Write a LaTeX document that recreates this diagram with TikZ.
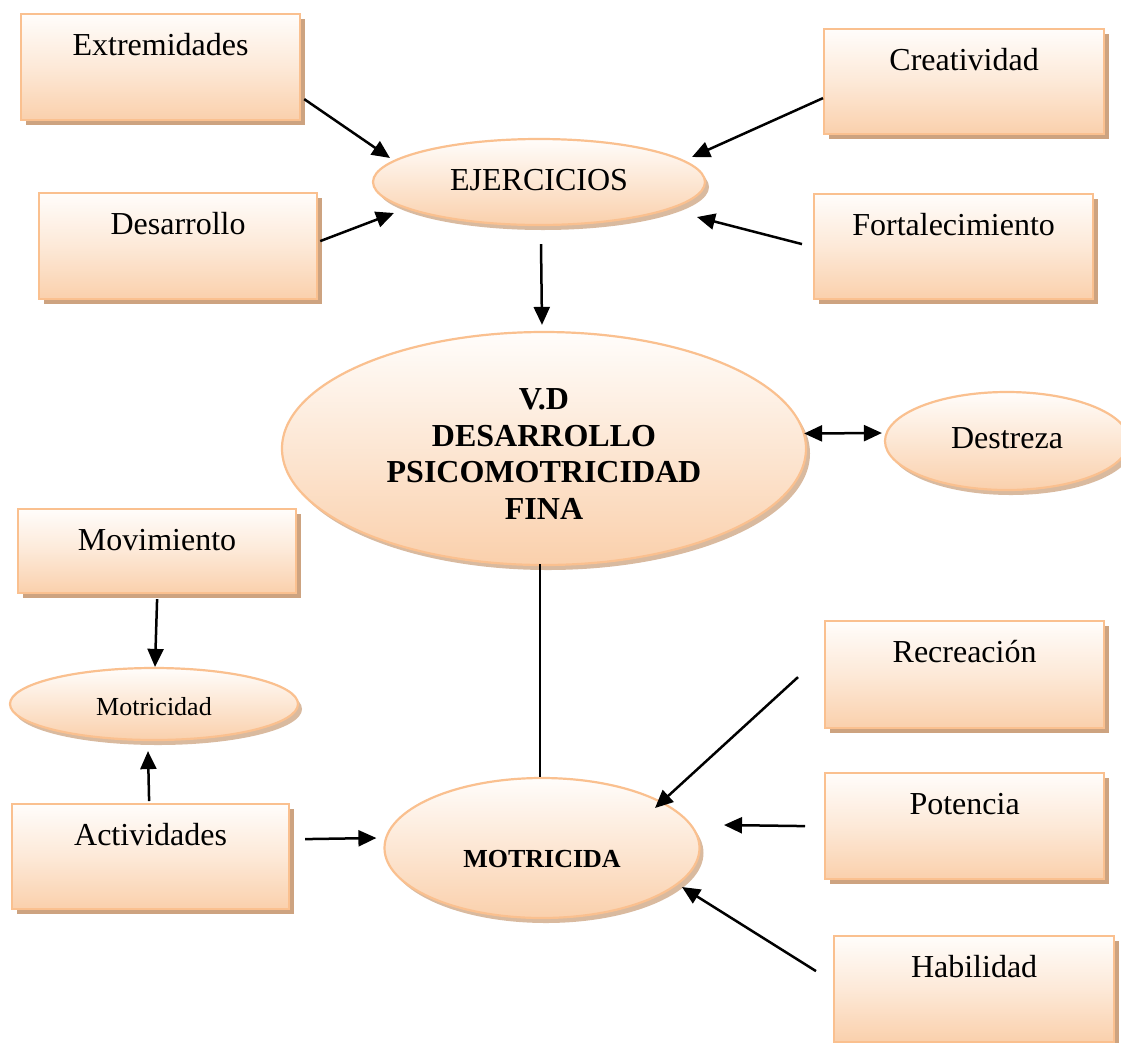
\documentclass[tikz,border=0pt]{standalone}
\usepackage{fontspec}
\setmainfont{Liberation Serif}
\usetikzlibrary{shapes.geometric,shadows,arrows.meta}
\definecolor{bordc}{RGB}{250,192,143}
\definecolor{peach}{RGB}{250,208,172}
\definecolor{topc}{RGB}{255,253,251}
\definecolor{shadc}{RGB}{205,163,128}
\begin{document}
\begin{tikzpicture}[x=1pt,y=-1pt,
  box/.style={rectangle, draw=bordc, line width=2.2pt,
    top color=topc, bottom color=peach, middle color=peach!45!topc,
    drop shadow={shadow xshift=5pt,shadow yshift=-5pt,opacity=1,fill=shadc},
    inner sep=0pt, align=center, anchor=north west,
    font=\fontsize{32}{36}\selectfont, text height=41pt},
  oval/.style={ellipse, draw=bordc, line width=2.2pt,
    top color=topc, bottom color=peach,
    drop shadow={shadow xshift=4pt,shadow yshift=-5pt,opacity=0.75,fill=shadc},
    inner sep=0pt, align=center},
  arr/.style={line width=2.5pt, -{Triangle[length=18pt,width=16pt]}},
  dbl/.style={line width=2.5pt, {Triangle[length=18pt,width=16pt]}-{Triangle[length=18pt,width=16pt]}},
  plain/.style={line width=2.5pt}
]
\fill[white] (0,0) rectangle (1121,1042);
\useasboundingbox (0,0) rectangle (1121,1042);

% boxes
\node[box, text width=279pt, text depth=65pt] (ext)  at (20,13)   {Extremidades};
\node[box, text width=280pt, text depth=64pt] (cre)  at (823,28)  {Creatividad};
\node[box, text width=278pt, text depth=65pt] (des)  at (38,192)  {Desarrollo};
\node[box, text width=279pt, text depth=64pt] (fort) at (813,193) {Fortalecimiento};
\node[box, text width=278pt, text depth=43pt] (mov)  at (17,508)  {Movimiento};
\node[box, text width=279pt, text depth=66pt] (rec)  at (824,620) {Recreación};
\node[box, text width=279pt, text depth=65pt] (pot)  at (824,772) {Potencia};
\node[box, text width=277pt, text depth=64pt] (act)  at (11,803)  {Actividades};
\node[box, text width=280pt, text depth=65pt] (hab)  at (833,935) {Habilidad};

% ellipses
\node[oval, minimum width=332pt, minimum height=86pt,
  font=\fontsize{32}{36}\selectfont, text height=16pt, text depth=0pt] (ejer) at (539,182) {EJERCICIOS};
\node[oval, minimum width=524pt, minimum height=233pt,
  font=\bfseries\fontsize{32}{36.5}\selectfont, text height=141pt, text depth=0pt] (big) at (544,448.5)
  {V.D\\DESARROLLO\\PSICOMOTRICIDAD\\FINA};
\node[oval, minimum width=244pt, minimum height=98pt,
  font=\fontsize{32}{36}\selectfont, text height=14pt, text depth=0pt] (dest) at (1007,441) {Destreza};
\node[oval, minimum width=288pt, minimum height=72pt,
  font=\fontsize{26}{30}\selectfont, text height=22pt, text depth=0pt] (motr) at (154,704) {Motricidad};
\node[oval, minimum width=315pt, minimum height=140pt,
  font=\bfseries\fontsize{26}{30}\selectfont, text height=38pt, text depth=0pt] (mot) at (542,848) {MOTRICIDA};

% connectors
\draw[arr] ([xshift=3pt,yshift=-32pt]ext.east) -- ([xshift=-149pt,yshift=24pt]ejer.center);
\draw[arr] ([yshift=-16.5pt]cre.west) -- ([xshift=153pt,yshift=25pt]ejer.center);
\draw[arr] ([xshift=2pt,yshift=5pt]des.east) -- ([xshift=-145pt,yshift=-31pt]ejer.center);
\draw[arr] ([xshift=-11pt,yshift=2.5pt]fort.west) -- ([xshift=158pt,yshift=-35pt]ejer.center);
\draw[arr] ([xshift=2pt,yshift=-18pt]ejer.south) -- ([xshift=-2pt,yshift=6pt]big.north);
\draw[dbl] ([xshift=-3pt,yshift=15pt]big.east) -- ([xshift=-2pt,yshift=8pt]dest.west);
\draw[plain] ([xshift=-4pt,yshift=2pt]big.south) -- ([xshift=-2pt]mot.north);
\draw[arr] ([yshift=-5pt]mov.south) -- ([xshift=1pt]motr.north);
\draw[arr] ([xshift=-1.5pt,yshift=2pt]act.north) -- ([xshift=-6pt,yshift=-10pt]motr.south);
\draw[arr] ([xshift=15pt,yshift=17.5pt]act.east) -- ([xshift=-7pt,yshift=10pt]mot.west);
\draw[arr] ([xshift=-26pt,yshift=-2.5pt]rec.west) -- ([xshift=113pt,yshift=40pt]mot.center);
\draw[arr] ([xshift=-19pt]pot.west) -- ([xshift=182pt,yshift=23pt]mot.center);
\draw[arr] ([xshift=-17pt,yshift=18pt]hab.west) -- ([xshift=140pt,yshift=-39pt]mot.center);
\end{tikzpicture}
\end{document}
